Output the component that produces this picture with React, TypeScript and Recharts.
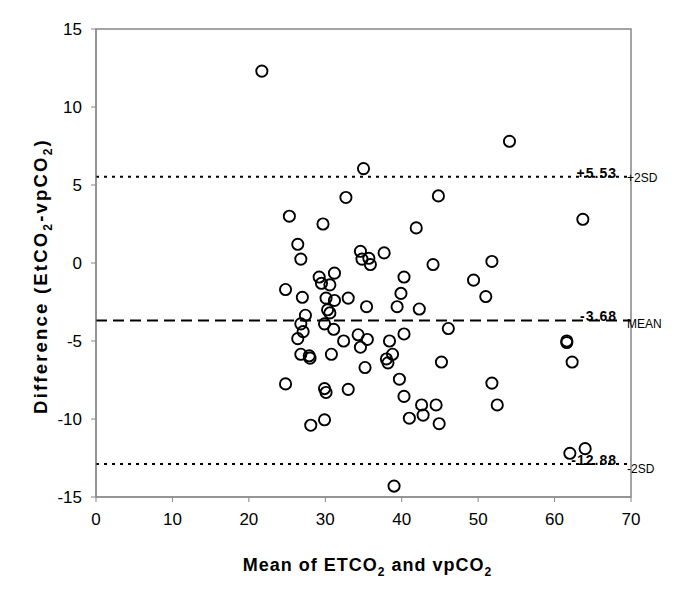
import React from 'react';
import {
  ScatterChart, Scatter, XAxis, YAxis, ReferenceLine, ReferenceArea,
} from 'recharts';

const FONT = '"Liberation Sans", Arial, sans-serif';

const xTicks = [0, 10, 20, 30, 40, 50, 60, 70];
const yTicks = [-15, -10, -5, 0, 5, 10, 15];

// mean of ETCO2 and vpCO2
const meanValues = [
  21.7, 54.1,
  35.0, 32.7, 44.8, 25.3, 29.7, 41.9, 26.4, 26.8, 34.6, 34.8, 35.7, 35.9,
  37.7, 44.1, 29.2, 31.2, 29.5, 30.6, 40.3, 49.4, 24.8, 27.0, 30.1, 31.2,
  33.0, 39.9, 35.4, 39.4, 42.3, 30.3, 30.6, 27.4, 51.0, 26.8, 29.9, 31.1,
  27.1, 46.1, 26.4, 32.4, 34.3, 35.5, 38.4, 40.3,
  34.6, 26.8, 27.9, 28.0, 30.8, 38.0, 38.8, 38.2, 35.2, 45.2, 39.7, 24.8,
  29.9, 30.1, 33.0, 40.3, 42.6, 44.5, 42.8, 41.0, 44.9, 29.9, 28.1, 39.0,
  63.7, 51.8, 61.6, 61.6, 62.3, 51.8, 52.5, 62.0, 64.0,
];

// difference EtCO2 - vpCO2
const diffValues = [
  12.3, 7.8,
  6.05, 4.2, 4.3, 3.0, 2.5, 2.25, 1.2, 0.25, 0.75, 0.25, 0.3, -0.1,
  0.65, -0.1, -0.9, -0.65, -1.3, -1.4, -0.9, -1.1, -1.7, -2.2, -2.25, -2.4,
  -2.25, -1.95, -2.8, -2.8, -2.95, -3.0, -3.2, -3.35, -2.15, -3.9, -3.9, -4.25,
  -4.4, -4.2, -4.85, -5.0, -4.6, -4.9, -5.0, -4.55,
  -5.4, -5.85, -5.95, -6.1, -5.85, -6.15, -5.85, -6.4, -6.7, -6.35, -7.45, -7.75,
  -8.05, -8.3, -8.1, -8.55, -9.1, -9.1, -9.75, -9.95, -10.3, -10.05, -10.4, -14.3,
  2.8, 0.1, -5.0, -5.1, -6.35, -7.7, -9.1, -12.2, -11.9,
];

const limitValues = [5.53, -3.68, -12.88];
const limitTexts = ['+5.53', '-3.68', '-12.88'];
const limitTags = ['+2SD', 'MEAN', '-2SD'];

const points = meanValues.map((x, i) => ({ x, y: diffValues[i] }));

function RefLabel(props: any) {
  const { viewBox, text, tag, tagDy } = props;
  if (!viewBox) return null;
  const right = viewBox.x + viewBox.width;
  const y = viewBox.y;
  return (
    <g>
      <text x={right - 14} y={y + 1} textAnchor="end" fontFamily={FONT} fontSize={14}
        fontWeight="bold" letterSpacing={1} fill="#000">{text}</text>
      <text x={right - 4} y={y + tagDy} fontFamily={FONT} fontSize={12} fill="#000">{tag}</text>
    </g>
  );
}

function XTitle(props: any) {
  const { viewBox } = props;
  if (!viewBox) return null;
  const cx = viewBox.x + viewBox.width / 2 + 4;
  return (
    <text x={cx} y={viewBox.y + 74} textAnchor="middle" fontFamily={FONT} fontSize={18}
      fontWeight="bold" letterSpacing={1} fill="#000">
      Mean of ETCO<tspan dy={5} fontSize={12}>2</tspan>
      <tspan dy={-5}> and vpCO</tspan><tspan dy={5} fontSize={12}>2</tspan>
    </text>
  );
}

function YTitle() {
  const x = 39;
  const y = 268;
  return (
    <text x={x} y={y} transform={`rotate(-90, ${x}, ${y})`} textAnchor="middle" fontFamily={FONT}
      fontSize={18.5} fontWeight="bold" letterSpacing={2.2} fill="#000">
      Difference (EtCO<tspan dy={5} fontSize={12}>2</tspan>
      <tspan dy={-5}>-vpCO</tspan><tspan dy={5} fontSize={12}>2</tspan><tspan dy={-5}>)</tspan>
    </text>
  );
}

const tickStyle = { fontSize: 17, fill: '#000', fontFamily: FONT };

export default function App() {
  const tagDy = [5, 8, 9];
  const dashes = ['3 5', '11 6', '3 5'];
  return (
    <div style={{ width: 677, height: 587, background: '#fff' }}>
      <ScatterChart width={677} height={587} margin={{ top: 21, right: 54, bottom: 0, left: 0 }}>
        <ReferenceArea x1={0} x2={70} y1={-15} y2={15} fill="none" stroke="#868686" strokeWidth={1.5} />
        <XAxis
          type="number"
          dataKey="x"
          domain={[0, 70]}
          ticks={xTicks}
          height={98}
          tick={tickStyle}
          tickSize={5}
          tickMargin={11}
          stroke="#868686"
          label={<XTitle />}
        />
        <YAxis
          type="number"
          dataKey="y"
          domain={[-15, 15]}
          ticks={yTicks}
          width={88}
          tick={tickStyle}
          tickSize={5}
          tickMargin={9}
          stroke="#868686"
          label={<YTitle />}
        />
        {limitValues.map((v, i) => (
          <ReferenceLine
            key={v}
            y={v}
            stroke="#000"
            strokeWidth={2}
            strokeDasharray={dashes[i]}
            label={<RefLabel text={limitTexts[i]} tag={limitTags[i]} tagDy={tagDy[i]} />}
          />
        ))}
        <Scatter
          data={points}
          isAnimationActive={false}
          shape={(p: any) => (
            <circle cx={p.cx} cy={p.cy} r={5.6} fill="none" stroke="#000" strokeWidth={1.9} />
          )}
        />
      </ScatterChart>
    </div>
  );
}
